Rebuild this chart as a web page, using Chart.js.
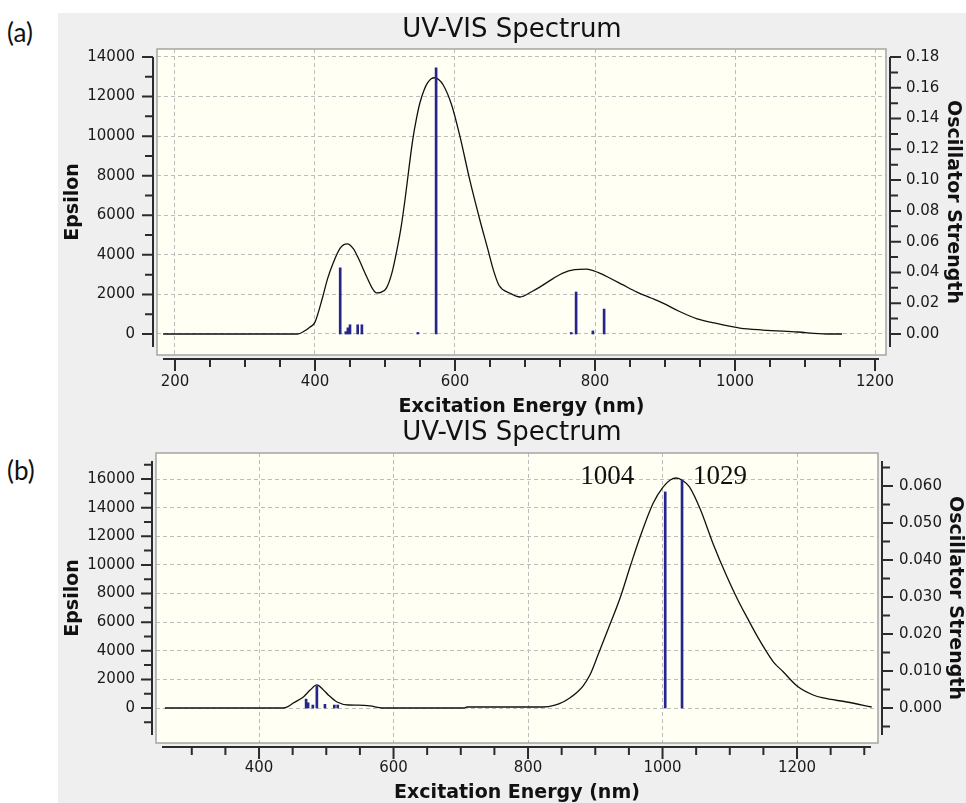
<!DOCTYPE html>
<html>
<head>
<meta charset="utf-8">
<script src="https://cdn.jsdelivr.net/npm/chart.js@4.4.1/dist/chart.umd.min.js"></script>
<style>
  body { margin: 0; background: #fff; width: 966px; height: 803px; position: relative; overflow: hidden; }
  #panel { position: absolute; left: 58px; top: 13px; width: 908px; height: 790px; background: #efefef; }
  .tag { position: absolute; left: 7px; font: 26px Lato, "Open Sans", sans-serif; line-height: 26px; color: #111; }
  .box { position: absolute; left: 58px; width: 908px; }
  canvas { display: block; }
</style>
</head>
<body>
<div id="panel"></div>
<div class="tag" style="top:19px">(a)</div>
<div class="tag" style="top:457px">(b)</div>
<div class="box" style="top:13px;height:404px"><canvas id="chartA" width="908" height="404"></canvas></div>
<div class="box" style="top:417px;height:386px"><canvas id="chartB" width="908" height="386"></canvas></div>

<script>
// ---- spectrum (a) ----
const nmA  = [183, 375, 385, 393, 400, 411, 418, 426, 436, 446, 455, 461, 474, 482, 488, 495, 502, 510, 517, 523,
              529, 535, 540, 545, 550, 556, 561, 566, 571, 577, 583, 595, 607, 621, 636, 646, 656, 663, 678, 693,
              710, 721, 740, 754, 771, 788, 805, 821, 840, 860, 880, 897, 920, 946, 975, 1007, 1040, 1089, 1131, 1153];
const epsA = [0, 0, 150, 350, 600, 1870, 2800, 3590, 4340, 4550, 4300, 3900, 2880, 2300, 2080, 2120, 2320, 3100, 4240, 5400,
              6900, 8600, 9900, 10900, 11700, 12350, 12700, 12900, 12950, 12850, 12600, 11600, 10000, 7800, 5700, 4400, 3100, 2450, 2070, 1870,
              2150, 2370, 2800, 3080, 3250, 3280, 3100, 2830, 2480, 2120, 1820, 1560, 1150, 760, 520, 300, 200, 100, 0, 0];
const stickNmA = [436, 444, 447, 450, 461, 467, 547, 573, 766, 773, 797, 813];
const stickFA  = [0.043, 0.0015, 0.004, 0.006, 0.006, 0.006, 0.001, 0.173, 0.001, 0.0273, 0.002, 0.0162];

// ---- spectrum (b) ----
const nmB  = [260, 436, 443, 451, 466, 476, 486, 495, 503, 516, 533, 547, 565, 583, 705, 709, 822, 840, 852, 862,
              873, 882, 892, 904, 919, 937, 952, 967, 986, 1001, 1012, 1020, 1030, 1040, 1056, 1075, 1096, 1112, 1126, 1141,
              1155, 1165, 1179, 1200, 1224, 1239, 1274, 1311];
const epsB = [0, 0, 100, 350, 770, 1250, 1610, 1300, 910, 420, 210, 200, 150, 0, 0, 70, 70, 200, 420, 700,
              1100, 1550, 2300, 3700, 5500, 7700, 9900, 12000, 14300, 15450, 15950, 16070, 15900, 15450, 13900, 11500, 9150, 7550, 6300, 5000,
              3900, 3210, 2550, 1540, 910, 700, 420, 70];
const stickNmB = [470, 473, 480, 486, 498, 512, 517, 1004, 1029];
const stickFB  = [0.0024, 0.0014, 0.0008, 0.0059, 0.001, 0.0008, 0.0008, 0.0584, 0.0616];
const peakLabelsB = [1004, 1029];

// labelled tick values
const nmTicksA  = [200, 400, 600, 800, 1000, 1200];
const epsTicksA = [0, 2000, 4000, 6000, 8000, 10000, 12000, 14000];
const oscTicksA = [0, 0.02, 0.04, 0.06, 0.08, 0.10, 0.12, 0.14, 0.16, 0.18];
const nmTicksB  = [400, 600, 800, 1000, 1200];
const epsTicksB = [0, 2000, 4000, 6000, 8000, 10000, 12000, 14000, 16000];
const oscTicksB = [0, 0.01, 0.02, 0.03, 0.04, 0.05, 0.06];

const TICK_FONT = { family: 'DejaVu Sans', size: 15 };
const AXIS_FONT = { family: 'DejaVu Sans', size: 19, weight: 'bold', lineHeight: 1 };
const GRID = '#bdbdbd';

function pairs(xs, ys) { return xs.map((x, i) => ({ x: x, y: ys[i] })); }

function stepTicks(min, max, step) {
  const out = [];
  for (let k = Math.ceil(min / step - 1e-9); k * step <= max + 1e-9; k++) {
    out.push({ value: Math.round(k * step * 1e6) / 1e6 });
  }
  return out;
}

function isIn(list, v) { return list.some(t => Math.abs(t - v) < 1e-7); }

// frame, detached axis lines and tick marks
function axisPlugin(labels) {
  return {
    id: 'axisFrame',
    beforeDraw(chart) {
      const { ctx, chartArea: a } = chart;
      ctx.save();
      ctx.fillStyle = '#fffff4';
      ctx.fillRect(a.left, a.top, a.width, a.height);
      ctx.restore();
    },
    afterDraw(chart) {
      const { ctx, chartArea: a, scales } = chart;
      ctx.save();
      ctx.strokeStyle = '#a5a5a5';
      ctx.lineWidth = 1.5;
      ctx.strokeRect(a.left, a.top, a.width, a.height);

      ctx.strokeStyle = '#2b2b2b';
      ctx.lineWidth = 2;
      const top = a.top + 8, bottom = a.bottom - 8;
      const lx = a.left - 4, rx = a.right + 4, by = a.bottom + 4;
      const x0 = a.left + 6, x1 = a.right - 7;
      ctx.beginPath();
      ctx.moveTo(lx, top); ctx.lineTo(lx, bottom);
      ctx.moveTo(rx, top); ctx.lineTo(rx, bottom);
      ctx.moveTo(x0, by); ctx.lineTo(x1, by);
      scales.y.ticks.forEach(t => {
        const p = scales.y.getPixelForValue(t.value);
        if (p < top - 1 || p > bottom + 1) return;
        ctx.moveTo(lx, p); ctx.lineTo(lx - (t.label !== '' ? 11 : 8), p);
      });
      scales.y2.ticks.forEach(t => {
        const p = scales.y2.getPixelForValue(t.value);
        if (p < top - 1 || p > bottom + 1) return;
        ctx.moveTo(rx, p); ctx.lineTo(rx + (t.label !== '' ? 11 : 8), p);
      });
      scales.x.ticks.forEach(t => {
        const p = scales.x.getPixelForValue(t.value);
        if (p < x0 - 1 || p > x1 + 1) return;
        ctx.moveTo(p, by); ctx.lineTo(p, by + (t.label !== '' ? 12 : 8));
      });
      ctx.stroke();

      // peak wavelengths written beside their sticks
      if (labels) {
        ctx.fillStyle = '#111';
        ctx.font = '27px "Liberation Serif", serif';
        ctx.textBaseline = 'middle';
        labels.forEach((v, i) => {
          const p = scales.x.getPixelForValue(v);
          ctx.textAlign = i === 0 ? 'right' : 'left';
          ctx.fillText(String(v), i === 0 ? p - 31 : p + 11, a.top + 24);
        });
      }
      ctx.restore();
    }
  };
}

function makeChart(id, o) {
  return new Chart(document.getElementById(id), {
    type: 'line',
    data: {
      datasets: [
        { type: 'bar', data: pairs(o.stickNm, o.stickF), yAxisID: 'y2', backgroundColor: '#25258c',
          barThickness: 2, borderWidth: 0, order: 0 },
        { data: pairs(o.nm, o.eps), yAxisID: 'y', borderColor: '#111', borderWidth: 1.3, pointRadius: 0,
          cubicInterpolationMode: 'monotone', fill: false, order: 1 }
      ]
    },
    options: {
      responsive: false,
      animation: false,
      events: [],
      layout: { padding: 0 },
      plugins: {
        legend: { display: false },
        tooltip: { enabled: false },
        title: { display: true, text: 'UV-VIS Spectrum', color: '#111',
                 font: { family: 'DejaVu Sans', size: 26, weight: 'normal', lineHeight: 1.2 },
                 padding: o.titlePad }
      },
      scales: {
        x: {
          type: 'linear', min: o.xMin, max: o.xMax, offset: false,
          afterBuildTicks: s => { s.ticks = stepTicks(o.xMin, o.xMax, 50); },
          afterFit: s => { s.height = o.xH; },
          grid: { offset: false, drawTicks: false, color: c => isIn(o.nmTicks, c.tick.value) ? GRID : 'transparent' },
          border: { display: false, dash: [4, 3] },
          ticks: { autoSkip: false, maxRotation: 0, padding: o.xPad, color: '#1a1a1a', font: TICK_FONT,
                   callback: v => isIn(o.nmTicks, v) ? String(v) : '' },
          title: { display: true, text: 'Excitation Energy (nm)', color: '#111', font: AXIS_FONT,
                   padding: { top: 0, bottom: 0.5 } }
        },
        y: {
          type: 'linear', position: 'left', min: o.yMin, max: o.yMax,
          afterBuildTicks: s => { s.ticks = stepTicks(o.yMin, o.yMax, 1000); },
          afterFit: s => { s.width = o.yW; },
          grid: { drawTicks: false, color: c => isIn(o.epsTicks, c.tick.value) ? GRID : 'transparent' },
          border: { display: false, dash: [4, 3] },
          ticks: { autoSkip: false, padding: o.yPad, color: '#1a1a1a', font: TICK_FONT,
                   callback: v => isIn(o.epsTicks, v) ? String(v) : '' },
          title: { display: true, text: 'Epsilon', color: '#111', font: AXIS_FONT,
                   padding: { top: 5.5, bottom: 0 } }
        },
        y2: {
          type: 'linear', position: 'right', min: o.fMin, max: o.fMax,
          afterBuildTicks: s => { s.ticks = stepTicks(o.fMin, o.fMax, o.fStep); },
          afterFit: s => { s.width = o.y2W; },
          grid: { display: false, drawTicks: false },
          border: { display: false },
          ticks: { autoSkip: false, padding: o.y2Pad, color: '#1a1a1a', font: TICK_FONT,
                   callback: v => isIn(o.oscTicks, v) ? v.toFixed(o.fDigits) : '' },
          title: { display: true, text: 'Oscillator Strength', color: '#111', font: AXIS_FONT,
                   padding: { top: o.y2TitlePad, bottom: 0 } }
        }
      }
    },
    plugins: [axisPlugin(o.peakLabels)]
  });
}

makeChart('chartA', {
  nm: nmA, eps: epsA, stickNm: stickNmA, stickF: stickFA,
  nmTicks: nmTicksA, epsTicks: epsTicksA, oscTicks: oscTicksA,
  xMin: 174.3, xMax: 1215.7, yMin: -1061.4, yMax: 14404.3, fMin: -0.013646, fMax: 0.185199,
  fStep: 0.01, fDigits: 2,
  xH: 62, yW: 99, y2W: 80, xPad: 18, yPad: 22, y2Pad: 20, y2TitlePad: 3.5,
  titlePad: { top: 2, bottom: 2.8 }
});

makeChart('chartB', {
  nm: nmB, eps: epsB, stickNm: stickNmB, stickF: stickFB, peakLabels: peakLabelsB,
  nmTicks: nmTicksB, epsTicks: epsTicksB, oscTicks: oscTicksB,
  xMin: 246.8, xMax: 1320.4, yMin: -2445.4, yMax: 17816.6, fMin: -0.009459, fMax: 0.068919,
  fStep: 0.005, fDigits: 3,
  xH: 60, yW: 98, y2W: 88, xPad: 16, yPad: 21, y2Pad: 21, y2TitlePad: 1.5,
  titlePad: { top: 1, bottom: 3.8 }
});
</script>
</body>
</html>
